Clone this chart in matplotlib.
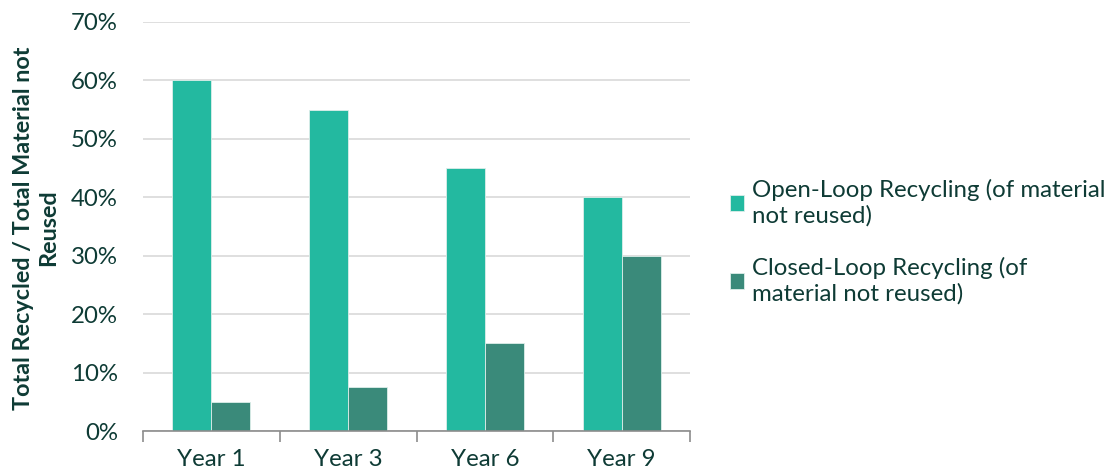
import matplotlib
import matplotlib.pyplot as plt
import numpy as np
from matplotlib.ticker import PercentFormatter

matplotlib.use("Agg")

plt.rcParams["font.family"] = ["Lato", "DejaVu Sans"]

YEARS = ["Year 1", "Year 3", "Year 6", "Year 9"]
OPEN_LOOP = [60, 55, 45, 40]
CLOSED_LOOP = [5, 7.5, 15, 30]
LABELS = ["Open-Loop Recycling (of material\nnot reused)", "Closed-Loop Recycling (of\nmaterial not reused)"]

TEXT = "#0E3B35"
C_OPEN = "#23B9A0"
C_CLOSED = "#3A8A7A"
FS = 17.3

fig = plt.figure(figsize=(11.05, 4.76), dpi=100)
ax = fig.add_axes([143 / 1105, 1 - 431 / 476, (690 - 143) / 1105, (431 - 22) / 476])

x = np.arange(len(YEARS))
w = 0.285
ax.bar(x - w / 2, OPEN_LOOP, w, color=C_OPEN, edgecolor="#DDEEEA", linewidth=0.6, label=LABELS[0], zorder=3)
ax.bar(x + w / 2, CLOSED_LOOP, w, color=C_CLOSED, edgecolor="#DDEEEA", linewidth=0.6, label=LABELS[1], zorder=3)

ax.set_xlim(-0.5, len(YEARS) - 0.5)
ax.set_ylim(0, 70)
ax.set_yticks(np.arange(0, 71, 10))
ax.yaxis.set_major_formatter(PercentFormatter(decimals=0))
ax.grid(axis="y", color="#D9D9D9", linewidth=1.2, zorder=0)

# ticks x: labels centrés, petits traits aux limites des catégories
ax.set_xticks(x)
ax.set_xticklabels(YEARS)
ax.set_xticks(np.arange(-0.5, len(YEARS), 1), minor=True)
ax.tick_params(axis="x", which="major", length=0, pad=13, labelsize=FS, labelcolor=TEXT)
ax.tick_params(axis="x", which="minor", length=8, width=1.2, color="#8C8C8C", direction="out")
ax.tick_params(axis="y", length=0, pad=18, labelsize=FS, labelcolor=TEXT)

for side in ["top", "right", "left"]:
	ax.spines[side].set_visible(False)
ax.spines["bottom"].set_color("#8C8C8C")
ax.spines["bottom"].set_linewidth(1.2)
ax.spines["bottom"].set_zorder(4)

fig.text(36 / 1105, 1 - 228 / 476, "Total Recycled / Total Material not\nReused", rotation=90,
		 ha="center", va="center", fontsize=16.8, fontweight="bold", color=TEXT, linespacing=1.2)

leg = fig.legend(loc="upper left", bbox_to_anchor=(730 / 1105, 1 - 179 / 476), frameon=False,
				 fontsize=FS, handlelength=0.6, handleheight=0.6, handletextpad=0.3,
				 labelspacing=1.25, borderpad=0, borderaxespad=0)
for t in leg.get_texts():
	t.set_color(TEXT)
	t.set_linespacing(1.25)

fig.savefig("out.png", dpi=100)
plt.close(fig)
